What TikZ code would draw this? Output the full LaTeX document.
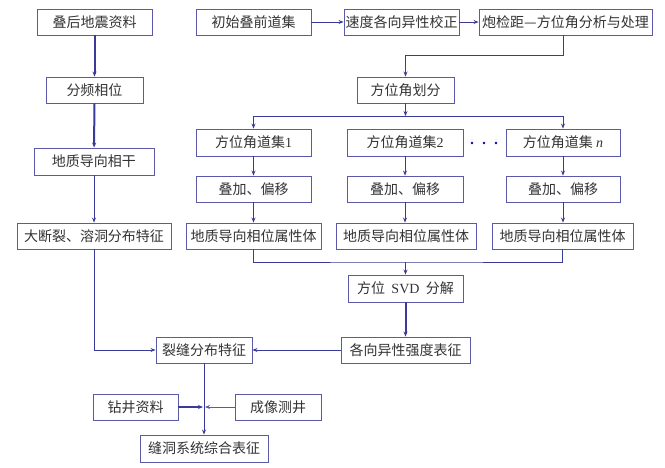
\documentclass[tikz,border=0pt]{standalone}
\usepackage{fontspec}
\setmainfont{Liberation Serif}
\newfontfamily\cjk{Noto Sans CJK SC}
\usetikzlibrary{arrows.meta,calc}
\definecolor{boxc}{HTML}{5A5AA8}
\definecolor{linec}{HTML}{3A3A98}
\definecolor{txtc}{HTML}{333333}
\tikzset{
  bx/.style={draw=boxc,line width=0.9pt,minimum height=26pt,inner sep=0pt,font=\cjk\fontsize{14}{16}\selectfont,text=txtc},
  arr/.style={draw=linec,line width=0.9pt,-{Stealth[length=5pt,width=4pt]}},
  tarr/.style={draw=linec,line width=2pt,-{Stealth[length=5pt,width=4pt]}},
  ln/.style={draw=linec,line width=0.9pt},
}
\begin{document}
\begin{tikzpicture}[x=1pt,y=-1pt]
\useasboundingbox (0,0) rectangle (665,467);
\fill[white] (0,0) rectangle (665,467);
% left column
\node[bx,minimum width=115pt] (n1) at (94.5,22) {叠后地震资料};
\node[bx,minimum width=97pt] (n2) at (94.5,90) {分频相位};
\node[bx,minimum width=120pt,minimum height=27pt] (n3) at (94,161.5) {地质导向相干};
\node[bx,minimum width=154pt] (n4) at (94,236) {大断裂、溶洞分布特征};
% top row
\node[bx,minimum width=115pt] (p1) at (253.5,22) {初始叠前道集};
\node[bx,minimum width=115pt] (p2) at (401.5,22) {速度各向异性校正};
\node[bx,minimum width=173pt] (p3) at (565.5,22) {炮检距—方位角分析与处理};
\node[bx,minimum width=97pt] (p4) at (405.5,90) {方位角划分};
% azimuth columns
\node[bx,minimum width=115pt,minimum height=27pt] (a1) at (253.5,142.5) {方位角道集{\rmfamily 1}};
\node[bx,minimum width=116pt,minimum height=27pt] (a2) at (405,142.5) {方位角道集{\rmfamily 2}};
\node[bx,minimum width=114pt,minimum height=27pt] (an) at (563,142.5) {方位角道集 {\rmfamily\itshape n}};
\node[bx,minimum width=115pt] (b1) at (253.5,189) {叠加、偏移};
\node[bx,minimum width=116pt] (b2) at (405,189) {叠加、偏移};
\node[bx,minimum width=114pt] (bn) at (563,189) {叠加、偏移};
\node[bx,minimum width=135pt] (c1) at (253.5,236) {地质导向相位属性体};
\node[bx,minimum width=140pt] (c2) at (406,236) {地质导向相位属性体};
\node[bx,minimum width=141pt] (cn) at (562.5,236) {地质导向相位属性体};
\node[bx,minimum width=115pt,minimum height=27pt] (svd) at (405.5,288.5) {方位\ \ {\rmfamily SVD}\ \ 分解};
\node[bx,minimum width=129pt] (ani) at (405.5,350) {各向异性强度表征};
\node[bx,minimum width=96pt] (frac) at (204,350) {裂缝分布特征};
\node[bx,minimum width=85pt] (well) at (135.5,407) {钻井资料};
\node[bx,minimum width=86pt] (img) at (278,407) {成像测井};
\node[bx,minimum width=128pt,minimum height=27pt] (fin) at (204,448.5) {缝洞系统综合表征};
% dots
\foreach \x in {472,484,496} \fill[blue!70!black] (\x,143) circle (1.4pt);
% coordinates
\coordinate (j1) at (405.5,55);
\coordinate (bus1) at (405.5,116);
\coordinate (bus2) at (405.5,262);
\coordinate (jw) at (204,407);
% connectors
\draw[tarr] (n1) -- (n2);
\draw[tarr] (n2) -- (n3);
\draw[arr] (n3) -- (n4);
\draw[arr] (p1) -- (p2);
\draw[arr] (p2) -- (p3);
\draw[arr] (p3.south -| an) |- (j1) -- (p4.north);
\draw[arr] (p4) -- (bus1);
\draw[ln] (bus1 -| a1) -- (bus1 -| an);
\draw[arr] (bus1 -| a1) -- (a1);
\draw[arr] (bus1 -| an) -- (an);
\draw[arr] (a1) -- (b1);
\draw[arr] (a2) -- (b2);
\draw[arr] (an) -- (bn);
\draw[arr] (b1) -- (c1);
\draw[arr] (b2.south) -- (b2.south |- c2.north);
\draw[arr] (bn.south) -- (bn.south |- cn.north);
\draw[ln] (c1.south) |- (bus2) -| (cn.south);
\draw[arr] (bus2) -- (svd);
\draw[tarr] (svd) -- (ani);
\draw[arr] (n4.south) |- (frac.west);
\draw[arr] (ani) -- (frac);
\draw[arr] (frac) -- (fin);
\draw[tarr,shorten >=1pt] (well) -- (jw);
\draw[arr,draw=boxc,shorten >=1pt] (img) -- (jw);
\end{tikzpicture}
\end{document}
